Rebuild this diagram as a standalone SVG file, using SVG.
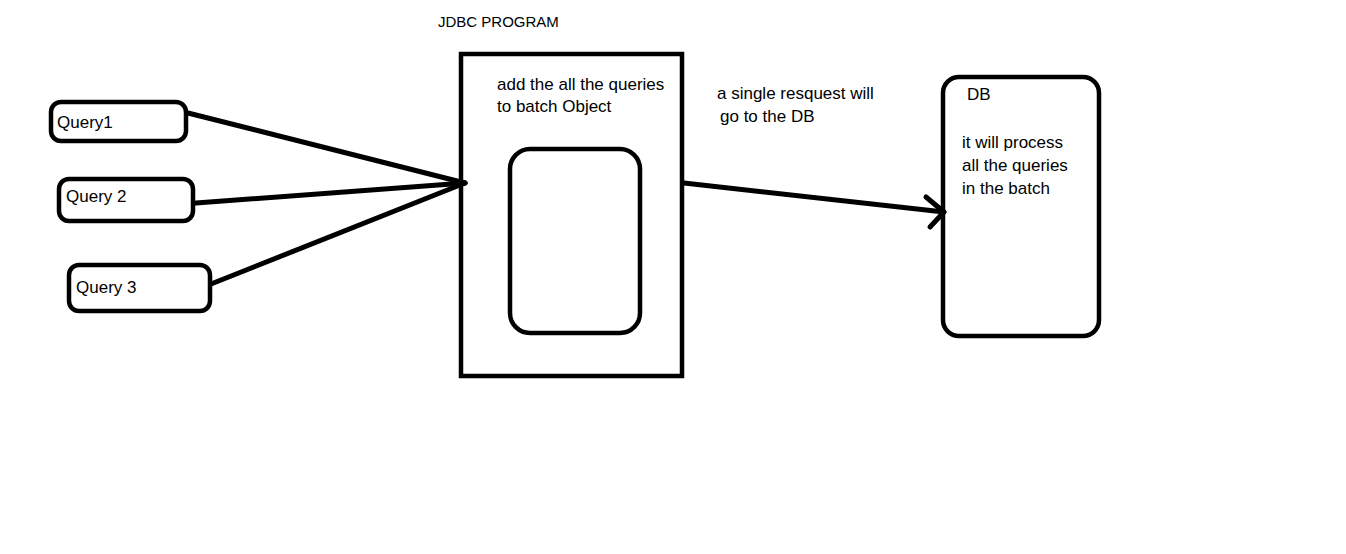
<svg xmlns="http://www.w3.org/2000/svg" width="1346" height="554" viewBox="0 0 1346 554">
<style>
.box{fill:none;stroke:#000;stroke-width:4.5}
.ln{fill:none;stroke:#000;stroke-width:5;stroke-linecap:round;stroke-linejoin:round}
.t{font-family:"Liberation Sans",Arial,sans-serif;font-size:17px;fill:#000}
.s{font-family:"Liberation Sans",Arial,sans-serif;font-size:15px;fill:#000}
</style>
<rect width="1346" height="554" fill="#fff"/>
<g id="connectors">
<line class="ln" x1="188" y1="113" x2="465" y2="183"/>
<line class="ln" x1="196" y1="203" x2="465" y2="183"/>
<line class="ln" x1="211" y1="284" x2="465" y2="183"/>
<line class="ln" x1="684" y1="183" x2="944" y2="212"/>
<polyline class="ln" points="926,197 944,212 930,227"/>
</g>
<g id="query1">
<rect class="box" x="51" y="102" width="135" height="39" rx="10"/>
<text class="t" x="57" y="128">Query1</text>
</g>
<g id="query2">
<rect class="box" x="59" y="179" width="134" height="42" rx="10"/>
<text class="t" x="66" y="202">Query 2</text>
</g>
<g id="query3">
<rect class="box" x="69" y="265" width="141" height="46" rx="10"/>
<text class="t" x="76" y="293">Query 3</text>
</g>
<g id="jdbc">
<text class="s" x="438" y="27">JDBC PROGRAM</text>
<rect class="box" x="461" y="54" width="221" height="322"/>
<text class="t" x="497" y="90">add the all the queries</text>
<text class="t" x="497" y="112">to batch Object</text>
</g>
<g id="batch">
<rect class="box" x="510" y="149" width="130" height="184" rx="20"/>
</g>
<g id="request-label">
<text class="t" x="717" y="99">a single resquest will</text>
<text class="t" x="720" y="122">go to the DB</text>
</g>
<g id="db">
<rect class="box" x="943" y="77" width="156" height="259" rx="16"/>
<text class="t" x="967" y="100">DB</text>
<text class="t" x="962" y="148">it will process</text>
<text class="t" x="962" y="171">all the queries</text>
<text class="t" x="962" y="194">in the batch</text>
</g>
</svg>
